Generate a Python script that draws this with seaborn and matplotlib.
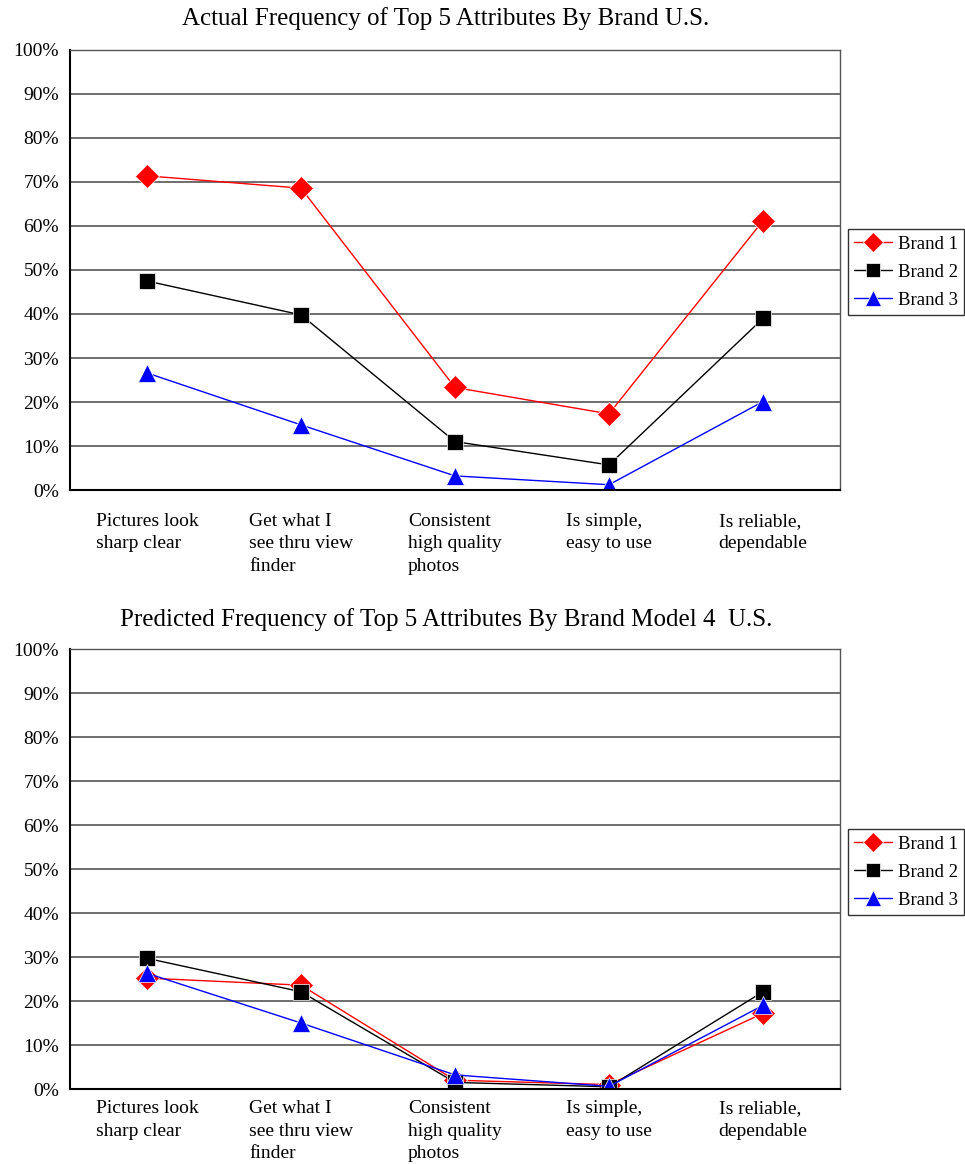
import matplotlib
matplotlib.use("Agg")
import matplotlib.pyplot as plt
import pandas as pd
import seaborn as sns

sns.set_style("white")
plt.rcParams["font.family"] = ["Liberation Serif", "DejaVu Serif"]
plt.rcParams["text.color"] = "black"
plt.rcParams["xtick.color"] = "black"
plt.rcParams["ytick.color"] = "black"

attributes = [
    "Pictures look\nsharp clear",
    "Get what I\nsee thru view\nfinder",
    "Consistent\nhigh quality\nphotos",
    "Is simple,\neasy to use",
    "Is reliable,\ndependable",
]
brands = ["Brand 1", "Brand 2", "Brand 3"]

# actual frequency (%)
actual_b1 = [71.4, 68.6, 23.3, 17.3, 61.2]
actual_b2 = [47.5, 39.8, 11.0, 5.7, 39.0]
actual_b3 = [26.6, 14.8, 3.2, 1.2, 20.1]

# predicted frequency, model 4 (%)
pred_b1 = [25.2, 23.6, 2.0, 1.0, 17.2]
pred_b2 = [29.7, 22.1, 1.5, 0.5, 22.1]
pred_b3 = [26.3, 15.0, 3.2, 0.6, 19.0]

titles = [
    "Actual Frequency of Top 5 Attributes By Brand U.S.",
    "Predicted Frequency of Top 5 Attributes By Brand Model 4  U.S.",
]

palette = {"Brand 1": "#ff0000", "Brand 2": "#000000", "Brand 3": "#0000ff"}
markers = {"Brand 1": "D", "Brand 2": "s", "Brand 3": "^"}


def make_df(b1, b2, b3):
    rows = []
    for name, vals in zip(brands, [b1, b2, b3]):
        for i, v in enumerate(vals):
            rows.append({"pos": i, "value": v, "brand": name})
    return pd.DataFrame(rows)


fig = plt.figure(figsize=(9.65, 11.64), dpi=100)
axes_pos = [
    [70 / 965, 1 - 490 / 1164, 770 / 965, 440 / 1164],
    [70 / 965, 1 - 1089 / 1164, 770 / 965, 440 / 1164],
]
title_y = [1 - 19 / 1164, 1 - 620 / 1164]
legend_y = [1 - 272 / 1164, 1 - 872 / 1164]
label_pad = [16.5, 8]
data = [(actual_b1, actual_b2, actual_b3), (pred_b1, pred_b2, pred_b3)]

for k in range(2):
    ax = fig.add_axes(axes_pos[k])
    df = make_df(*data[k])
    sns.lineplot(data=df, x="pos", y="value", hue="brand", style="brand",
                 palette=palette, markers=markers, dashes=False,
                 markersize=12, linewidth=1, markeredgewidth=0.5, ax=ax)
    # triangles a little larger, like the original
    for ln in ax.get_lines():
        if ln.get_marker() == "^":
            ln.set_markersize(13.5)

    ax.set_xlim(-0.5, 4.5)
    ax.set_ylim(0, 100)
    ax.set_yticks(range(0, 101, 10))
    ax.set_yticklabels([f"{v}%" for v in range(0, 101, 10)], fontsize=14)
    ax.yaxis.grid(True, color="#555555", linewidth=1.2)
    ax.set_axisbelow(True)

    # category ticks sit between categories, labels centred under each
    ax.set_xticks([i - 0.5 for i in range(6)])
    ax.set_xticklabels([])
    ax.set_xticks(range(5), minor=True)
    ax.set_xticklabels(attributes, minor=True, fontsize=14,
                       ha="center", va="top", multialignment="left",
                       linespacing=1.42)
    ax.tick_params(axis="x", which="major", direction="out", length=6,
                   width=1, color="black")
    ax.tick_params(axis="x", which="minor", length=0, pad=label_pad[k])
    ax.tick_params(axis="y", direction="out", length=5, width=1,
                   color="black", pad=3)

    for s in ax.spines.values():
        s.set_color("#555555")
        s.set_linewidth(1)
    ax.spines["left"].set_color("black")
    ax.spines["bottom"].set_color("black")
    ax.spines["left"].set_linewidth(1.5)
    ax.spines["bottom"].set_linewidth(1.5)

    ax.set_xlabel("")
    ax.set_ylabel("")
    fig.text(446 / 965, title_y[k], titles[k], fontsize=18,
             ha="center", va="center", color="black")

    leg = ax.legend(loc="center left", bbox_to_anchor=(848 / 965, legend_y[k]),
                    bbox_transform=fig.transFigure, fontsize=13.5,
                    frameon=True, fancybox=False, edgecolor="black",
                    handlelength=2.0, handletextpad=0.35, borderpad=0.33,
                    labelspacing=0.58, markerscale=0.85, borderaxespad=0)
    leg.get_frame().set_linewidth(1)
    for t in leg.get_texts():
        t.set_color("black")
    leg.set_title(None)

fig.savefig("out.png", dpi=100, facecolor="white")
